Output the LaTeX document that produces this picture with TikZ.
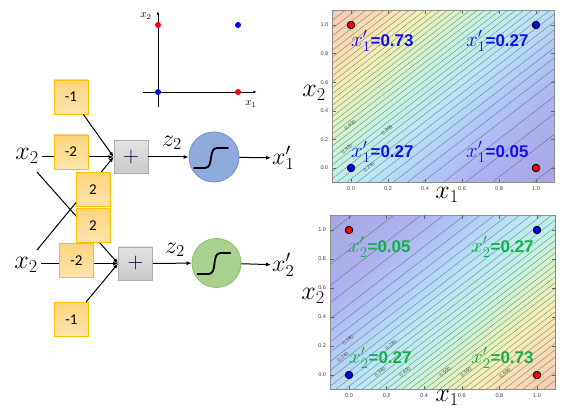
\RequirePackage{fix-cm}
\documentclass[tikz,border=0pt]{standalone}
\usepackage{fontspec}
\setsansfont{Liberation Sans}
\newfontfamily\calibfont{Carlito}
\usetikzlibrary{arrows.meta}
\definecolor{cA0}{HTML}{F6C2AA}
\definecolor{cB0}{HTML}{F8D6A8}
\definecolor{cC0}{HTML}{F2EEAA}
\definecolor{cD0}{HTML}{D6F2BA}
\definecolor{cE0}{HTML}{B6F0E4}
\definecolor{cF0}{HTML}{B0E2F6}
\definecolor{cG0}{HTML}{ABC6F6}
\definecolor{cH0}{HTML}{A9AEF0}
\definecolor{cI0}{HTML}{A6A6E2}
\colorlet{cA}{cA0!88!white}
\colorlet{cB}{cB0!88!white}
\colorlet{cC}{cC0!88!white}
\colorlet{cD}{cD0!88!white}
\colorlet{cE}{cE0!88!white}
\colorlet{cF}{cF0!90!white}
\colorlet{cG}{cG0!92!white}
\colorlet{cH}{cH0!95!white}
\colorlet{cI}{cI0}
\definecolor{wborder}{HTML}{FFC000}
\definecolor{wtop}{HTML}{FFD47F}
\definecolor{wbot}{HTML}{FFE4AC}
\definecolor{annblue}{HTML}{1010F0}
\definecolor{anngreen}{HTML}{14B04C}
\definecolor{sigblue}{HTML}{8FAADC}
\definecolor{sigblueline}{HTML}{7090D0}
\definecolor{siggreen}{HTML}{A9D18E}
\definecolor{siggreenline}{HTML}{88C068}
\definecolor{dotred}{HTML}{FF0000}
\definecolor{dotblue}{HTML}{0000FF}
\pgfdeclarehorizontalshading{jetmap}{100bp}{color(0bp)=(cA); color(14.65bp)=(cA); color(22.9bp)=(cB); color(30bp)=(cC); color(36bp)=(cD); color(44bp)=(cE); color(52bp)=(cF); color(60bp)=(cG); color(70bp)=(cH); color(85.35bp)=(cI); color(100bp)=(cI)}
\tikzset{
  wbox/.style={draw=wborder, line width=0.9pt, top color=wtop, bottom color=wbot, minimum width=34pt, minimum height=34pt, inner sep=0pt, font=\calibfont\fontsize{15}{15}\selectfont},
  pbox/.style={draw=gray!65, line width=0.8pt, top color=gray!22, bottom color=gray!42, minimum width=34pt, minimum height=33pt, inner sep=0pt, font=\fontsize{22}{22}\selectfont, text=black!80!blue},
  wire/.style={line width=1pt, black, -{Latex[length=5pt,width=4pt]}},
  biglab/.style={font=\fontsize{26}{26}\selectfont, inner sep=1pt},
  midlab/.style={font=\fontsize{24}{24}\selectfont, inner sep=1pt},
  sigblueshape/.style={circle, draw=sigblueline, fill=sigblue, line width=0.8pt, minimum size=50pt, inner sep=0pt},
  siggreenshape/.style={circle, draw=siggreenline, fill=siggreen, line width=0.8pt, minimum size=49pt, inner sep=0pt},
  sigcurve/.style={line width=1.8pt, black, line cap=round},
  cline/.style={line width=0.4pt, black!65, opacity=0.7},
  clab/.style={font=\sffamily\fontsize{5}{5}\selectfont, text=black!70, inner sep=0pt},
  ticklab/.style={font=\sffamily\fontsize{5.5}{5.5}\selectfont, text=black!75, inner sep=0pt},
  tickmark/.style={line width=0.4pt, black!60},
  frame/.style={draw=black!45, line width=0.8pt},
  pdot/.style={circle, draw=black, line width=0.9pt, minimum size=7.5pt, inner sep=0pt},
  sdot/.style={circle, minimum size=6pt, inner sep=0pt},
  annot/.style={anchor=west, inner sep=0pt},
  small axis/.style={line width=0.8pt, black, -{Latex[length=4pt,width=3pt]}}
}
\newcommand{\annottext}[2]{{\fontsize{21}{21}\selectfont$x'_{#1}$}{\sffamily\bfseries\fontsize{17}{17}\selectfont=#2}}
\begin{document}
\begin{tikzpicture}[x=1pt,y=-1pt]
\fill[white] (0,0) rectangle (566,417);
\useasboundingbox (0,0) rectangle (566,417);

% ---------- small scatter plot ----------
\coordinate (ox0) at (143,92);
\coordinate (ox1) at (257,92);
\coordinate (oy0) at (158,107);
\coordinate (oy1) at (158,11);
\draw[small axis] (ox0) -- (ox1);
\draw[small axis] (oy0) -- (oy1);
\node[sdot, fill=dotred] (s01) at (158,25) {};
\node[sdot, fill=dotblue] (s11) at (238,25) {};
\node[sdot, fill=dotblue] (s00) at (158,92) {};
\node[sdot, fill=dotred] (s10) at (238,92) {};
\node[font=\fontsize{11}{11}\selectfont, inner sep=0pt] (lx2s) at (146,16) {$x_2$};
\node[font=\fontsize{11}{11}\selectfont, inner sep=0pt] (lx1s) at (251,104) {$x_1$};

% ---------- network ----------
\node[pbox] (pa) at (131,157) {$+$};
\node[pbox] (pb) at (135.5,263.5) {$+$};
\node[sigblueshape] (sa) at (214,157) {};
\node[siggreenshape] (sb) at (216.5,263) {};
\draw[sigcurve] ([shift={(-20,11)}]sa.center) -- ++(11,0) to[out=0,in=180] ++(12,-20) -- ++(11,0);
\draw[sigcurve] ([shift={(-19,11)}]sb.center) -- ++(11,0) to[out=0,in=180] ++(12,-21) -- ++(10,0);

\node[wbox] (w1a) at (71,97) {-1};
\node[wbox] (w1b) at (71.5,319.5) {-1};

\node[biglab] (xa) at (27,156) {$x_2$};
\node[biglab] (xb) at (26,265) {$x_2$};
\node[midlab] (za) at (172,143) {$z_2$};
\node[midlab] (zb) at (175,250) {$z_2$};
\node[midlab, anchor=west] (oa) at (271,158) {$x'_1$};
\node[midlab, anchor=west] (ob) at (271,265) {$x'_2$};

\coordinate (sA) at (42,157);
\coordinate (sB) at (37,172);
\coordinate (sC) at (37,250);
\coordinate (sD) at (41,263.5);

\draw[wire] (sA) -- (pa.west);
\draw[wire] (sC) -- (pa.west);
\draw[wire] (w1a) -- (pa.west);
\draw[wire] (sD) -- (pb.west);
\draw[wire] (sB) -- (pb.west);
\draw[wire] (w1b) -- (pb.west);
\draw[wire] (pa) -- (sa);
\draw[wire] (pb) -- (sb);
\draw[wire] (sa) -- (oa);
\draw[wire] (sb) -- (ob);

\node[wbox] (w2a) at (71,152) {-2};
\node[wbox] (w2b) at (76.5,260.5) {-2};
\node[wbox] (wc) at (93,189.5) {2};
\node[wbox] (wd) at (93,225.5) {2};

% ---------- top contour plot ----------
\begin{scope}[shift={(351,168)}, x=185pt, y=143pt]
  \shade[shading=jetmap, shading angle=-45] (-0.1,-0.1) rectangle (1.1,1.1);
  \begin{scope}
    \clip (-0.1,-0.1) rectangle (1.1,1.1);
    \foreach \k in {2,...,40}{
      \pgfmathsetmacro{\vv}{0.02*\k}
      \pgfmathsetmacro{\dd}{(ln(\vv/(1-\vv))+1)/2}
      \draw[cline] (-1.5,-1.5+\dd) -- (2.5,2.5+\dd);
    }
  \end{scope}
  \draw[frame] (-0.1,-0.1) rectangle (1.1,1.1);
  \foreach \t in {0,0.2,0.4,0.6,0.8,1}{
    \draw[tickmark] (\t,-0.1) -- ++(0,0.025);
    \draw[tickmark] (\t,1.1) -- ++(0,-0.025);
    \draw[tickmark] (-0.1,\t) -- ++(0.02,0);
    \draw[tickmark] (1.1,\t) -- ++(-0.02,0);
  }
  \foreach \t/\l in {0/0.0,0.2/0.2,0.4/0.4,0.6/0.6,0.8/0.8,1/1.0}{
    \node[ticklab, anchor=north] at ([yshift=-4pt]\t,-0.1) {\l};
    \node[ticklab, anchor=east] at ([xshift=-4pt]-0.1,\t) {\l};
  }
  \node[pdot, fill=dotred] (ta01) at (0,1) {};
  \node[pdot, fill=dotblue] (ta11) at (1,1) {};
  \node[pdot, fill=dotblue] (ta00) at (0,0) {};
  \node[pdot, fill=dotred] (ta10) at (1,0) {};
\end{scope}
\node[clab, rotate=37.7] (cl1) at (350,125) {0.400};
\node[clab, rotate=37.7] (cl2) at (387,130) {0.300};
\node[clab, rotate=37.7] (cl3) at (347,149) {0.320};
\node[clab, rotate=37.7] (cl4) at (369,167) {0.240};
\node[annot, text=annblue] (an1) at (351,41) {\annottext{1}{0.73}};
\node[annot, text=annblue] (an2) at (466,41) {\annottext{1}{0.27}};
\node[annot, text=annblue] (an3) at (351,152) {\annottext{1}{0.27}};
\node[annot, text=annblue] (an4) at (466,152) {\annottext{1}{0.05}};
\node[biglab] (px2a) at (314,93) {$x_2$};
\node[biglab] (px1a) at (447,195) {$x_1$};

% ---------- bottom contour plot ----------
\begin{scope}[shift={(349,375)}, x=188pt, y=145pt]
  \shade[shading=jetmap, shading angle=135] (-0.1,-0.1) rectangle (1.1,1.1);
  \begin{scope}
    \clip (-0.1,-0.1) rectangle (1.1,1.1);
    \foreach \k in {2,...,40}{
      \pgfmathsetmacro{\vv}{0.02*\k}
      \pgfmathsetmacro{\dd}{-(ln(\vv/(1-\vv))+1)/2}
      \draw[cline] (-1.5,-1.5+\dd) -- (2.5,2.5+\dd);
    }
  \end{scope}
  \draw[frame] (-0.1,-0.1) rectangle (1.1,1.1);
  \foreach \t in {0,0.2,0.4,0.6,0.8,1}{
    \draw[tickmark] (\t,-0.1) -- ++(0,0.025);
    \draw[tickmark] (\t,1.1) -- ++(0,-0.025);
    \draw[tickmark] (-0.1,\t) -- ++(0.02,0);
    \draw[tickmark] (1.1,\t) -- ++(-0.02,0);
  }
  \foreach \t/\l in {0/0.0,0.2/0.2,0.4/0.4,0.6/0.6,0.8/0.8,1/1.0}{
    \node[ticklab, anchor=north] at ([yshift=-4pt]\t,-0.1) {\l};
    \node[ticklab, anchor=east] at ([xshift=-4pt]-0.1,\t) {\l};
  }
  \node[pdot, fill=dotred] (tb01) at (0,1) {};
  \node[pdot, fill=dotblue] (tb11) at (1,1) {};
  \node[pdot, fill=dotblue] (tb00) at (0,0) {};
  \node[pdot, fill=dotred] (tb10) at (1,0) {};
\end{scope}
\node[clab, rotate=37.6] (cm1) at (348,340) {0.180};
\node[clab, rotate=37.6] (cm2) at (391,345) {0.280};
\node[clab, rotate=37.6] (cm3) at (343,357) {0.240};
\node[clab, rotate=37.6] (cm4) at (380,372) {0.340};
\node[clab, rotate=37.6] (cm5) at (405,372) {0.400};
\node[clab, rotate=37.6] (cm6) at (445,372) {0.500};
\node[clab, rotate=37.6] (cm7) at (466,372) {0.560};
\node[clab, rotate=37.6] (cm8) at (505,373) {0.660};
\node[annot, text=anngreen] (bn1) at (348,247) {\annottext{2}{0.05}};
\node[annot, text=anngreen] (bn2) at (471,247) {\annottext{2}{0.27}};
\node[annot, text=anngreen] (bn3) at (349,358) {\annottext{2}{0.27}};
\node[annot, text=anngreen] (bn4) at (471,358) {\annottext{2}{0.73}};
\node[biglab] (px2b) at (313,296) {$x_2$};
\node[biglab] (px1b) at (447,398) {$x_1$};
\end{tikzpicture}
\end{document}
